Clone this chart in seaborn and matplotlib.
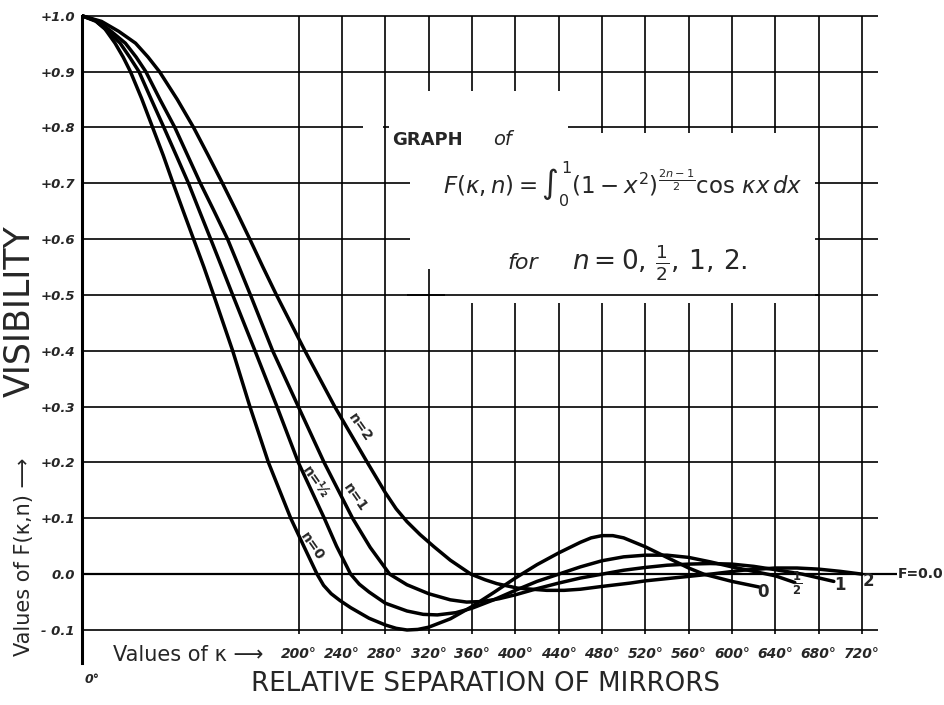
import numpy as np
import pandas as pd
import matplotlib
matplotlib.use("Agg")
import matplotlib.pyplot as plt
import seaborn as sns
from matplotlib.patches import Rectangle

# ---------------- data ----------------
kappa_n0 = [0, 12, 21, 30.5, 38, 44.7, 55, 65.2, 75, 84.1, 93.5, 103.0, 112.5, 121.5, 139.1, 155, 172.1, 192.7,
            205, 217, 223, 230, 238, 248, 265, 280, 290, 300, 310, 320, 340, 360, 380, 400, 420, 440,
            460, 470, 480, 490, 500, 520, 540, 560, 574, 600, 625]
F_n0 = [1.0, 0.992, 0.977, 0.951, 0.926, 0.9, 0.852, 0.8, 0.75, 0.7, 0.65, 0.6, 0.55, 0.5, 0.4, 0.3, 0.2, 0.1,
        0.049, 0.0, -0.020, -0.035, -0.047, -0.060, -0.079, -0.091, -0.097, -0.100, -0.099, -0.095, -0.080, -0.058, -0.033, -0.007, 0.017, 0.038,
        0.057, 0.065, 0.069, 0.069, 0.065, 0.049, 0.030, 0.011, 0.0, -0.013, -0.023]

kappa_nh = [0, 13, 24, 35.2, 44, 52.6, 64, 75.6, 87, 98.3, 108.5, 118.8, 129, 139.1, 159.7, 180.0, 199.7, 223.7,
            235, 248, 256, 265, 280, 300, 315, 328, 345, 360, 380, 400, 420, 440, 460, 480,
            500, 520, 540, 560, 580, 600, 620, 640, 658]
F_nh = [1.0, 0.99, 0.972, 0.951, 0.926, 0.9, 0.85, 0.8, 0.75, 0.7, 0.65, 0.6, 0.55, 0.5, 0.4, 0.3, 0.2, 0.1,
        0.05, 0.0, -0.018, -0.032, -0.052, -0.066, -0.072, -0.073, -0.069, -0.061, -0.046, -0.029, -0.013, 0.0, 0.013, 0.024,
        0.031, 0.034, 0.034, 0.030, 0.022, 0.013, 0.005, -0.003, -0.015]

kappa_n1 = [0, 15, 27, 40.0, 50, 58.9, 72, 85.7, 97.5, 109.3, 122, 134.4, 145, 155.5, 176, 199.7, 223.5, 249.8,
            266, 284, 300, 320, 340, 355, 370, 385, 400, 420, 440, 460, 480, 500, 520, 540, 560, 580, 600,
            620, 640, 665, 694]
F_n1 = [1.0, 0.99, 0.972, 0.951, 0.926, 0.9, 0.85, 0.8, 0.75, 0.7, 0.65, 0.6, 0.55, 0.5, 0.4, 0.3, 0.2, 0.1,
        0.048, 0.0, -0.019, -0.035, -0.046, -0.050, -0.049, -0.044, -0.037, -0.026, -0.016, -0.007, 0.0, 0.007, 0.012, 0.016, 0.018, 0.019, 0.018,
        0.014, 0.008, 0.0, -0.013]

kappa_n2 = [0, 18, 34, 49.4, 61, 71.5, 88, 103.0, 116.5, 129.7, 142.5, 154.9, 167, 179.5, 205.8, 233.3, 263.4, 280, 290, 300,
            312, 325, 340, 359, 372, 383, 402, 429, 445, 460, 480, 506, 520, 550, 580, 610, 640, 660, 680, 700, 720]
F_n2 = [1.0, 0.99, 0.972, 0.951, 0.926, 0.9, 0.85, 0.8, 0.75, 0.7, 0.65, 0.6, 0.55, 0.5, 0.4, 0.3, 0.2, 0.146, 0.117, 0.094,
        0.071, 0.049, 0.025, 0.0, -0.010, -0.017, -0.025, -0.029, -0.029, -0.027, -0.022, -0.016, -0.012, -0.006, 0.0, 0.007, 0.011, 0.011, 0.009, 0.005, 0.0]

series_names = ["0", "1/2", "1", "2"]
x_ticks = [200, 240, 280, 320, 360, 400, 440, 480, 520, 560, 600, 640, 680, 720]
x_tick_labels = ["200°", "240°", "280°", "320°", "360°", "400°", "440°", "480°",
                 "520°", "560°", "600°", "640°", "680°", "720°"]
y_ticks = [1.0, 0.9, 0.8, 0.7, 0.6, 0.5, 0.4, 0.3, 0.2, 0.1, 0.0, -0.1]
y_tick_labels = ["+1.0", "+0.9", "+0.8", "+0.7", "+0.6", "+0.5", "+0.4", "+0.3",
                 "+0.2", "+0.1", "0.0", "- 0.1"]

frames = []
for name, kx, fy in zip(series_names, [kappa_n0, kappa_nh, kappa_n1, kappa_n2],
                        [F_n0, F_nh, F_n1, F_n2]):
    frames.append(pd.DataFrame({"kappa": kx, "F": fy, "n": name}))
df = pd.concat(frames, ignore_index=True)

# ---------------- figure ----------------
sns.set_style("white")
plt.rcParams["font.family"] = ["DejaVu Sans"]

fig = plt.figure(figsize=(9.45, 7.05), dpi=100)
ax = fig.add_axes([82 / 945, 40 / 705, 818 / 945, 653 / 705])
ax.set_xlim(0, 755.1)
ax.set_ylim(-0.1627, 1.0068)

for s in ["top", "right", "bottom"]:
    ax.spines[s].set_visible(False)
ax.spines["left"].set_linewidth(2.2)
ax.spines["left"].set_color("black")
ax.spines["left"].set_bounds(-0.16, 1.0)

# grid
ax.hlines([y for y in y_ticks if y != 0.0], 0, 735, colors="black", lw=1.2, zorder=1)
ax.hlines([0.0], 0, 752, colors="black", lw=1.6, zorder=1)
ax.vlines(x_ticks, -0.107, 1.0, colors="black", lw=1.2, zorder=1)

# white area behind the title block
for (x0, y0, w, h) in [(335, 0.486, 342, 0.304), (303, 0.547, 32, 0.243),
                       (283, 0.79, 165.5, 0.075), (259, 0.79, 19, 0.02)]:
    ax.add_patch(Rectangle((x0, y0), w, h, facecolor="white", edgecolor="none", zorder=2))
ax.hlines([0.5], 300, 680, colors="black", lw=1.2, zorder=2.5)

sns.lineplot(data=df, x="kappa", y="F", hue="n", palette=["black"] * 4,
             estimator=None, sort=False, legend=False, lw=2.5, ax=ax, zorder=3)
for ln in ax.get_lines():
    ln.set_solid_joinstyle("round")
    ln.set_solid_capstyle("round")

ax.set_xlabel("")
ax.set_ylabel("")
ax.set_xticks(x_ticks, x_tick_labels)
ax.set_yticks(y_ticks, y_tick_labels)
ax.tick_params(axis="x", length=0, pad=-13, labelsize=10)
ax.tick_params(axis="y", length=0, pad=5, labelsize=9.5)
for t in ax.get_xticklabels() + ax.get_yticklabels():
    t.set_fontstyle("italic")
    t.set_fontweight("bold")

# annotations
ax.text(2, -0.188, "0°", fontsize=9, style="italic", weight="bold", ha="left", va="center", clip_on=False)
ax.text(28.6, -0.145, "Values of κ ⟶", fontsize=15, ha="left", va="center")
fig.text(486 / 945, 1 - 684 / 705, "RELATIVE SEPARATION OF MIRRORS", fontsize=18.8,
         ha="center", va="center")
fig.text(19 / 945, 1 - 311 / 705, "VISIBILITY", fontsize=25,
         rotation=90, ha="center", va="center")
fig.text(24 / 945, 1 - 557 / 705, "Values of F(κ,n) ⟶", fontsize=15,
         rotation=90, ha="center", va="center")
ax.text(753, 0.0, "F=0.0", fontsize=10, weight="bold", ha="left", va="center", clip_on=False)

for (tx, ty, s) in [(628.6, -0.032, "0"), (660, -0.016, r"$\mathbf{\frac{1}{2}}$"),
                    (699.7, -0.019, "1"), (725.6, -0.012, "2")]:
    ax.text(tx, ty, s, fontsize=12, weight="bold", ha="center", va="center", zorder=4)

for (tx, ty, s) in [(256.6, 0.262, "n=2"), (215, 0.165, "n=½"), (252, 0.138, "n=1"), (212, 0.049, "n=0")]:
    ax.text(tx, ty, s, fontsize=10, weight="bold", rotation=-55, ha="center", va="center", zorder=4)

ax.text(286.2, 0.778, "GRAPH", fontsize=13, weight="bold", ha="left", va="center", zorder=4)
ax.text(379.4, 0.778, "of", fontsize=14, style="italic", ha="left", va="center", zorder=4)
ax.text(499.4, 0.697, r"$F(\kappa,n)=\int_0^1(1-x^2)^{\frac{2n-1}{2}}\cos\,\kappa x\,dx$",
        fontsize=16.5, ha="center", va="center", zorder=4)
ax.text(393.2, 0.5575, "for", fontsize=16, style="italic", ha="left", va="center", zorder=4)
ax.text(452.3, 0.5575, r"$n=0,\,\frac{1}{2},\,1,\,2.$", fontsize=19, ha="left", va="center", zorder=4)

fig.savefig("out.png", dpi=100, facecolor="white")
